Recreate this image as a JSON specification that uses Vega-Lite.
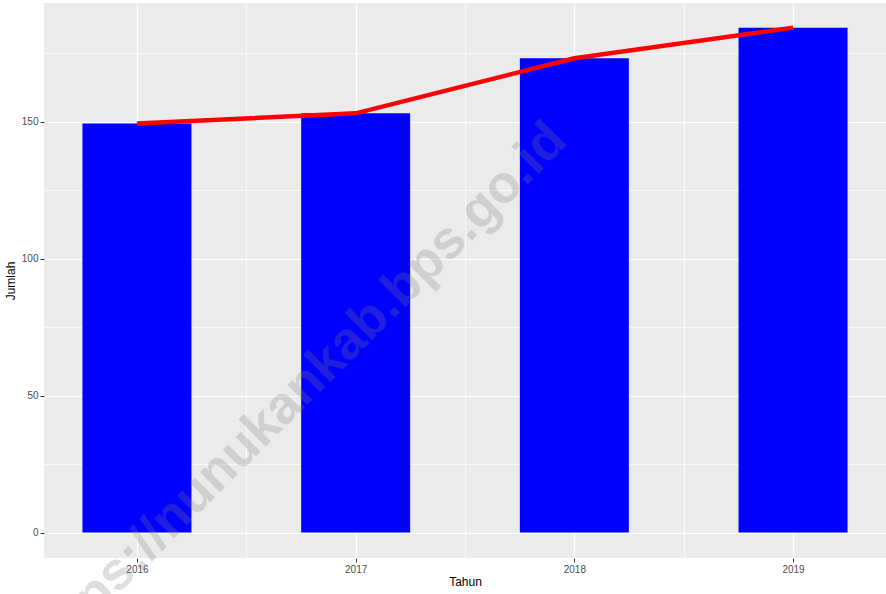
{
  "$schema": "https://vega.github.io/schema/vega-lite/v6.json",
  "width": 842,
  "height": 555,
  "autosize": "none",
  "padding": {"left": 44, "top": 3, "right": 0, "bottom": 36},
  "background": "white",
  "config": {
    "view": {"fill": "#EBEBEB", "stroke": null},
    "font": "Liberation Sans",
    "axis": {
      "domain": false,
      "gridColor": "white",
      "tickColor": "#333333",
      "tickSize": 4,
      "labelColor": "#4D4D4D",
      "labelFontSize": 10,
      "labelPadding": 2,
      "titleColor": "black",
      "titleFontSize": 12,
      "titleFontWeight": "normal"
    }
  },
  "data": {
    "values": [
      {"Tahun": 2016, "Jumlah": 149.4},
      {"Tahun": 2017, "Jumlah": 153.1},
      {"Tahun": 2018, "Jumlah": 173.2},
      {"Tahun": 2019, "Jumlah": 184.4}
    ]
  },
  "layer": [
    {
      "mark": {"type": "bar", "size": 109, "color": "#0000FF"},
      "encoding": {
        "x": {
          "field": "Tahun",
          "type": "quantitative",
          "scale": {"domain": [2015.575, 2019.425], "nice": false, "zero": false, "padding": 0},
          "axis": {
            "title": "Tahun",
            "values": [2016, 2016.5, 2017, 2017.5, 2018, 2018.5, 2019],
            "labelExpr": "datum.value % 1 === 0 ? format(datum.value, 'd') : ''",
            "tickOpacity": {"condition": {"test": "datum.value % 1 === 0", "value": 1}, "value": 0},
            "gridWidth": {"condition": {"test": "datum.value % 1 === 0", "value": 1.2}, "value": 0.7},
            "titlePadding": 2
          }
        },
        "y": {
          "field": "Jumlah",
          "type": "quantitative",
          "scale": {"domain": [-9.28, 193.4], "nice": false, "zero": false, "padding": 0},
          "axis": {
            "title": "Jumlah",
            "values": [0, 25, 50, 75, 100, 125, 150, 175],
            "labelExpr": "datum.value % 50 === 0 ? datum.label : ''",
            "tickOpacity": {"condition": {"test": "datum.value % 50 === 0", "value": 1}, "value": 0},
            "gridWidth": {"condition": {"test": "datum.value % 50 === 0", "value": 1.2}, "value": 0.7},
            "titlePadding": 4
          }
        }
      }
    },
    {
      "mark": {"type": "line", "color": "#FF0000", "strokeWidth": 4.5},
      "encoding": {
        "x": {"field": "Tahun", "type": "quantitative"},
        "y": {"field": "Jumlah", "type": "quantitative"}
      }
    },
    {
      "data": {"values": [{"label": "https://nunukankab.bps.go.id"}]},
      "mark": {
        "type": "text",
        "angle": -45,
        "align": "center",
        "baseline": "middle",
        "fontSize": 53,
        "fontWeight": "bold",
        "color": "#808080",
        "opacity": 0.25
      },
      "encoding": {
        "x": {"datum": 2016.73, "type": "quantitative"},
        "y": {"datum": 51, "type": "quantitative"},
        "text": {"field": "label"}
      }
    }
  ]
}
